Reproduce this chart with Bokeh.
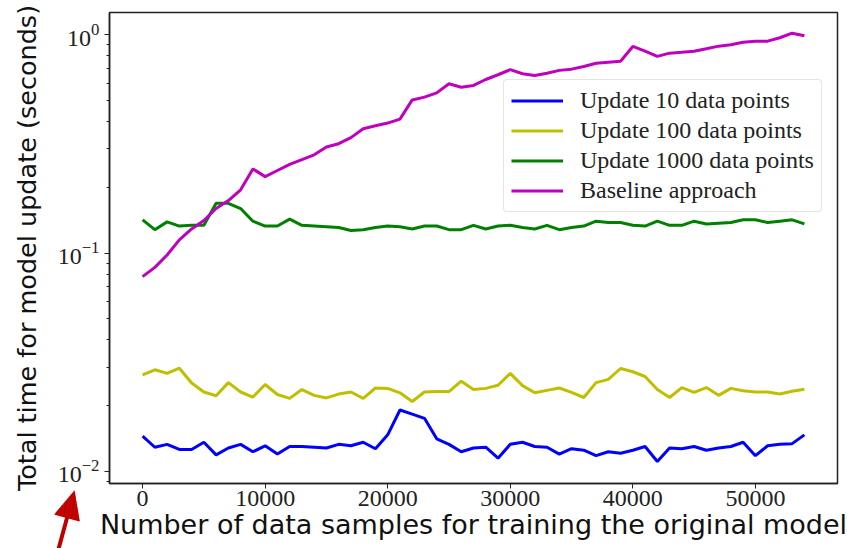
import math
from bokeh.plotting import figure
from bokeh.models import Range1d, FixedTicker, Legend, LegendItem, Arrow, NormalHead
from bokeh.embed import file_html
from bokeh.resources import INLINE

samples = [0, 1000, 2000, 3000, 4000, 5000, 6000, 7000, 8000, 9000,
           10000, 11000, 12000, 13000, 14000, 15000, 16000, 17000, 18000, 19000,
           20000, 21000, 22000, 23000, 24000, 25000, 26000, 27000, 28000, 29000,
           30000, 31000, 32000, 33000, 34000, 35000, 36000, 37000, 38000, 39000,
           40000, 41000, 42000, 43000, 44000, 45000, 46000, 47000, 48000, 49000,
           50000, 51000, 52000, 53000, 54000]

update_10 = [0.0145, 0.0129, 0.0133, 0.0126, 0.0126, 0.0136, 0.0119, 0.0128, 0.0133, 0.0123,
             0.0131, 0.0120, 0.0130, 0.0130, 0.0129, 0.0128, 0.0133, 0.0131, 0.0136, 0.0127,
             0.0147, 0.0191, 0.0183, 0.0175, 0.0141, 0.0133, 0.0123, 0.0128, 0.0129, 0.0115,
             0.0133, 0.0136, 0.0130, 0.0129, 0.0120, 0.0127, 0.0125, 0.0118, 0.0123, 0.0121,
             0.0125, 0.0130, 0.0111, 0.0128, 0.0127, 0.0130, 0.0125, 0.0128, 0.0130, 0.0136,
             0.0118, 0.0131, 0.0133, 0.0134, 0.0147]

update_100 = [0.0277, 0.0292, 0.0281, 0.0297, 0.0254, 0.0231, 0.0222, 0.0255, 0.0231, 0.0219,
              0.0250, 0.0225, 0.0216, 0.0237, 0.0223, 0.0217, 0.0226, 0.0231, 0.0216, 0.0241,
              0.0240, 0.0229, 0.0209, 0.0231, 0.0232, 0.0232, 0.0259, 0.0237, 0.0240, 0.0248,
              0.0281, 0.0247, 0.0229, 0.0235, 0.0241, 0.0230, 0.0218, 0.0255, 0.0264, 0.0296,
              0.0286, 0.0272, 0.0237, 0.0218, 0.0242, 0.0230, 0.0242, 0.0223, 0.0240, 0.0234,
              0.0231, 0.0231, 0.0226, 0.0233, 0.0238]

update_1000 = [0.142, 0.128, 0.139, 0.133, 0.134, 0.134, 0.169, 0.169, 0.160, 0.140,
               0.133, 0.133, 0.143, 0.134, 0.133, 0.132, 0.131, 0.127, 0.128, 0.131,
               0.133, 0.132, 0.129, 0.133, 0.133, 0.128, 0.128, 0.134, 0.129, 0.133,
               0.134, 0.131, 0.129, 0.134, 0.128, 0.131, 0.133, 0.140, 0.138, 0.138,
               0.134, 0.133, 0.140, 0.134, 0.134, 0.140, 0.136, 0.137, 0.138, 0.142,
               0.142, 0.138, 0.140, 0.142, 0.136]

baseline = [0.078, 0.086, 0.098, 0.115, 0.129, 0.141, 0.160, 0.174, 0.195, 0.243,
            0.224, 0.239, 0.255, 0.268, 0.282, 0.306, 0.317, 0.338, 0.371, 0.383,
            0.394, 0.411, 0.503, 0.518, 0.542, 0.597, 0.575, 0.586, 0.624, 0.656,
            0.692, 0.663, 0.651, 0.667, 0.687, 0.696, 0.716, 0.741, 0.749, 0.757,
            0.884, 0.841, 0.796, 0.824, 0.832, 0.841, 0.863, 0.887, 0.900, 0.925,
            0.935, 0.935, 0.969, 1.017, 0.989]

series_labels = ["Update 10 data points", "Update 100 data points",
                 "Update 1000 data points", "Baseline approach"]
series_colors = ["#0000ff", "#bfbf00", "#008000", "#bf00bf"]
x_ticks = [0, 10000, 20000, 30000, 40000, 50000]

# red pointer arrow below-left of the axes (screen offsets from the frame's lower-left corner)
ARROW_TIP = (-35.0, -7.0)
ARROW_TAIL = (-53.5, -74.7)
ARROW_HEAD_LEN = 28
ARROW_HEAD_WIDTH = 26.0
ARROW_SHAFT_WIDTH = 4
ARROW_RED = "#c00000"

p = figure(width=850, height=548, y_axis_type="log",
           x_range=Range1d(-2700, 56700), y_range=Range1d(0.0088, 1.265),
           output_backend="svg", toolbar_location=None,
           min_border_left=109, min_border_right=13,
           min_border_top=12, min_border_bottom=65)

p.background_fill_color = "white"
p.border_fill_color = "white"
p.outline_line_color = "#222222"
p.outline_line_width = 1.5
p.xgrid.visible = False
p.ygrid.visible = False

renderers = []
for vals, col in zip([update_10, update_100, update_1000, baseline], series_colors):
    r = p.line(samples, vals, line_color=col, line_width=3)
    renderers.append(r)

# axes
p.xaxis.ticker = FixedTicker(ticks=x_ticks)
p.xaxis.axis_label = "Number of data samples for training the original model"
p.yaxis.axis_label = "Total time for model update (seconds)"
for ax in (p.xaxis[0], p.yaxis[0]):
    ax.axis_line_color = "#222222"
    ax.axis_line_width = 1.5
    ax.major_tick_line_color = "#222222"
    ax.minor_tick_line_color = "#222222"
    ax.major_tick_in = 0
    ax.major_tick_out = 5
    ax.minor_tick_in = 0
    ax.minor_tick_out = 3
    ax.major_label_text_font = "Liberation Serif"
    ax.major_label_text_font_size = "24px"
    ax.major_label_text_color = "#222222"
    ax.axis_label_text_font = "DejaVu Sans"
    ax.axis_label_text_font_style = "normal"
    ax.axis_label_text_color = "#111111"

p.xaxis.major_label_standoff = 2
p.xaxis.axis_label_standoff = 0
p.xaxis.axis_label_text_font_size = "27px"
p.yaxis.major_label_standoff = 5
p.yaxis.axis_label_standoff = 13
p.yaxis.axis_label_text_font_size = "25.5px"

legend = Legend(items=[LegendItem(label=lab, renderers=[r])
                       for lab, r in zip(series_labels, renderers)],
                location=(394, 271))
legend.label_text_font = "Liberation Serif"
legend.label_text_font_size = "24px"
legend.label_text_color = "#222222"
legend.glyph_width = 52
legend.glyph_height = 27
legend.label_height = 27
legend.label_standoff = 17
legend.spacing = 3
legend.padding = 7
legend.margin = 0
legend.border_line_color = "#cccccc"
legend.border_line_width = 1
legend.background_fill_color = "white"
legend.background_fill_alpha = 0.85
try:
    legend.border_radius = 4
except Exception:
    pass
p.add_layout(legend, "center")


def arrow_piece(start, end, width, clip_size):
    # a straight red band from start to end (screen offsets); the invisible
    # head only defines the drawing region around the band
    head = NormalHead(size=clip_size, fill_alpha=0.0, line_alpha=0.0)
    return Arrow(end=head, x_start=start[0], y_start=start[1],
                 x_end=end[0], y_end=end[1],
                 start_units="screen", end_units="screen",
                 line_color=ARROW_RED, line_width=width)


dx = ARROW_TAIL[0] - ARROW_TIP[0]
dy = ARROW_TAIL[1] - ARROW_TIP[1]
dist = math.hypot(dx, dy)
ux, uy = dx / dist, dy / dist

# shaft
base = (ARROW_TIP[0] + (ARROW_HEAD_LEN - 1) * ux, ARROW_TIP[1] + (ARROW_HEAD_LEN - 1) * uy)
p.add_layout(arrow_piece(ARROW_TAIL, base, ARROW_SHAFT_WIDTH, 120))

# triangular head built from thin slices
for k in range(ARROW_HEAD_LEN):
    a = k
    b = k + 1.6
    e = (ARROW_TIP[0] + a * ux, ARROW_TIP[1] + a * uy)
    s = (ARROW_TIP[0] + b * ux, ARROW_TIP[1] + b * uy)
    w = ARROW_HEAD_WIDTH * (k + 0.8) / ARROW_HEAD_LEN
    p.add_layout(arrow_piece(s, e, w, 60))

open("out.html", "w").write(file_html(p, INLINE))
